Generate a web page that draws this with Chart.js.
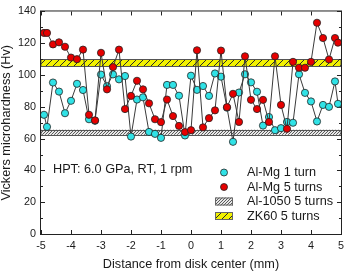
<!DOCTYPE html>
<html><head><meta charset="utf-8">
<script src="https://cdn.jsdelivr.net/npm/chart.js@4"></script>
<style>html,body{margin:0;padding:0;background:#fff;overflow:hidden}#wrap{width:350px;height:272px}</style>
</head><body><div id="wrap"><canvas id="c" width="350" height="272"></canvas></div>
<script>
// ---- data ----
const xPos = [-4.9,-4.8,-4.6,-4.4,-4.2,-4.0,-3.8,-3.6,-3.4,-3.2,-3.0,-2.8,-2.6,-2.4,-2.2,-2.0,-1.8,-1.6,-1.4,-1.2,-1.0,-0.8,-0.6,-0.4,-0.2,0,0.2,0.4,0.6,0.8,1.0,1.2,1.4,1.6,1.8,2.0,2.2,2.4,2.6,2.8,3.0,3.2,3.4,3.6,3.8,4.0,4.2,4.4,4.6,4.8,4.9];
const alMg1Turn = [75,67.4,95.3,89.6,76,83.8,94.5,90.6,72.2,71.2,100.3,93,100.4,97.3,99.4,61.3,84.6,86,64.2,63,60.5,93.8,93.8,87,62,99.6,90.7,93.1,86.9,101,99,79.5,58,89,100.5,95.4,89.5,68.2,73.6,65.3,66.6,70.5,70,100.5,88.8,83.4,70.8,81.2,80,96,81.9];
const alMg5Turns = [126.5,126.5,119.3,120.6,117.8,111,110,116,75,71.5,114,91,105,116,78.6,86.9,96.4,91,82.2,72.2,70.4,84.6,74.2,68,64.1,65.3,115.6,67.1,72.9,77.8,115.4,79.8,88.2,70.5,111.8,84.4,78.6,84.4,70.5,111.8,81.2,66.2,108.3,104.6,104.6,108.3,132.9,123.3,109.8,123.3,120.4];
const al1050Band = [62.4, 65.6];
const zk60Band = [105.6, 110.1];
const xTickValues = [-5,-4,-3,-2,-1,0,1,2,3,4,5];
const yTickValues = [0,20,40,60,80,100,120,140];
const yMinorTicks = [10,30,50,70,90,110,130];
const seriesNames = ['Al-Mg 1 turn','Al-Mg 5 turns'];
const bandNames = ['Al-1050 5 turns','ZK60 5 turns'];
const annotationText = 'HPT: 6.0 GPa, RT, 1 rpm';
const xTitle = 'Distance from disk center (mm)';
const yTitle = 'Vickers microhardness (Hv)';

// ---- styles ----
const FONT = '"Liberation Sans", Arial, sans-serif';
const CYAN = '#30e2e6', RED = '#e60000', TXT = '#1a1a1a';
const canvas = document.getElementById('c');
const ctx = canvas.getContext('2d');

function hatch(bg, fg, size, lw) {
  const c = document.createElement('canvas'); c.width = c.height = size;
  const g = c.getContext('2d');
  g.fillStyle = bg; g.fillRect(0, 0, size, size);
  g.strokeStyle = fg; g.lineWidth = lw; g.beginPath();
  g.moveTo(0, size); g.lineTo(size, 0);
  g.moveTo(-1, 1); g.lineTo(1, -1);
  g.moveTo(size - 1, size + 1); g.lineTo(size + 1, size - 1);
  g.stroke();
  return ctx.createPattern(c, 'repeat');
}
const grayPat = hatch('#e6e6e6', '#5a5a5a', 3, 1);
const yellowPat = hatch('#f2f200', '#2a2a2a', 7, 1);

const bandsPlugin = {
  id: 'bands',
  beforeDatasetsDraw(chart) {
    const { ctx: c, chartArea: a, scales: { x, y } } = chart;
    c.save();
    [[al1050Band, grayPat], [zk60Band, yellowPat]].forEach(([b, p]) => {
      const y1 = y.getPixelForValue(b[1]), y0 = y.getPixelForValue(b[0]);
      c.fillStyle = p; c.fillRect(a.left, y1, a.right - a.left, y0 - y1);
      c.strokeStyle = '#555'; c.lineWidth = 1;
      c.strokeRect(a.left, Math.round(y1) + 0.5, a.right - a.left, Math.round(y0 - y1));
    });
    // frame
    c.strokeStyle = '#222'; c.lineWidth = 1;
    c.strokeRect(a.left - 0.5, a.top - 0.5, a.right - a.left + 1, a.bottom - a.top + 1);
    c.beginPath();
    xTickValues.forEach(v => {
      const px = Math.round(x.getPixelForValue(v)) + 0.5;
      c.moveTo(px, a.bottom); c.lineTo(px, a.bottom - 4);
      c.moveTo(px, a.top); c.lineTo(px, a.top + 4);
    });
    yTickValues.forEach(v => {
      const py = Math.round(y.getPixelForValue(v)) + 0.5;
      c.moveTo(a.left, py); c.lineTo(a.left + 4, py);
      c.moveTo(a.right, py); c.lineTo(a.right - 4, py);
    });
    yMinorTicks.forEach(v => {
      const py = Math.round(y.getPixelForValue(v)) + 0.5;
      c.moveTo(a.left, py); c.lineTo(a.left + 2, py);
      c.moveTo(a.right, py); c.lineTo(a.right - 2, py);
    });
    c.stroke();
    c.restore();
  },
  afterDraw(chart) {
    const { ctx: c, chartArea: a } = chart;
    c.save();
    c.fillStyle = TXT;
    c.font = '12.7px ' + FONT;
    c.textBaseline = 'middle';
    c.textAlign = 'center';
    c.fillText(xTitle, (a.left + a.right) / 2, 264);
    c.save();
    c.translate(6, (a.top + a.bottom) / 2);
    c.rotate(-Math.PI / 2);
    c.fillText(yTitle, 0, 0);
    c.restore();
    c.textAlign = 'left';
    c.fillText(annotationText, 53, 169);
    // legend
    const lx = 247, sx = 224, rows = [172.5, 187, 201.5, 216];
    const cols = [CYAN, RED];
    for (let i = 0; i < 2; i++) {
      c.beginPath(); c.arc(sx, rows[i], 3.5, 0, Math.PI * 2);
      c.fillStyle = cols[i]; c.fill();
      c.lineWidth = 0.8; c.strokeStyle = '#222'; c.stroke();
      c.fillStyle = TXT; c.fillText(seriesNames[i], lx, rows[i]);
    }
    [grayPat, yellowPat].forEach((p, j) => {
      const ry = rows[2 + j];
      c.fillStyle = p; c.fillRect(215, ry - 4, 18, 8);
      c.strokeStyle = '#666'; c.lineWidth = 1; c.strokeRect(215.5, ry - 3.5, 17, 7);
      c.fillStyle = TXT; c.fillText(bandNames[j], lx, ry);
    });
    c.restore();
  }
};

const mk = (vals) => xPos.map((x, i) => ({ x, y: vals[i] }));
new Chart(ctx, {
  type: 'scatter',
  data: {
    datasets: [
      { label: seriesNames[1], data: mk(alMg5Turns), showLine: true, borderColor: '#3a3a3a', borderWidth: 1,
        pointRadius: 3.6, pointBackgroundColor: RED, pointBorderColor: '#222', pointBorderWidth: 0.8, tension: 0 },
      { label: seriesNames[0], data: mk(alMg1Turn), showLine: true, borderColor: '#3a3a3a', borderWidth: 1,
        pointRadius: 3.6, pointBackgroundColor: CYAN, pointBorderColor: '#222', pointBorderWidth: 0.8, tension: 0 }
    ]
  },
  options: {
    responsive: false, animation: false, devicePixelRatio: 1,
    layout: { padding: { left: 0, right: 4, top: 5, bottom: 0 } },
    plugins: { legend: { display: false }, tooltip: { enabled: false } },
    scales: {
      x: {
        type: 'linear', min: -5, max: 5,
        afterBuildTicks: s => { s.ticks = xTickValues.map(v => ({ value: v })); },
        grid: { display: false, drawTicks: false }, border: { display: false },
        ticks: { font: { family: FONT, size: 10.8 }, color: TXT, padding: 6, maxRotation: 0, autoSkip: false },
        afterFit: s => { s.height = 38; }
      },
      y: {
        type: 'linear', min: 0, max: 140,
        afterBuildTicks: s => { s.ticks = yTickValues.map(v => ({ value: v })); },
        grid: { display: false, drawTicks: false }, border: { display: false },
        ticks: { font: { family: FONT, size: 10.8 }, color: TXT, padding: 5, autoSkip: false },
        afterFit: s => { s.width = 41; }
      }
    }
  },
  plugins: [bandsPlugin]
});
</script></body></html>
